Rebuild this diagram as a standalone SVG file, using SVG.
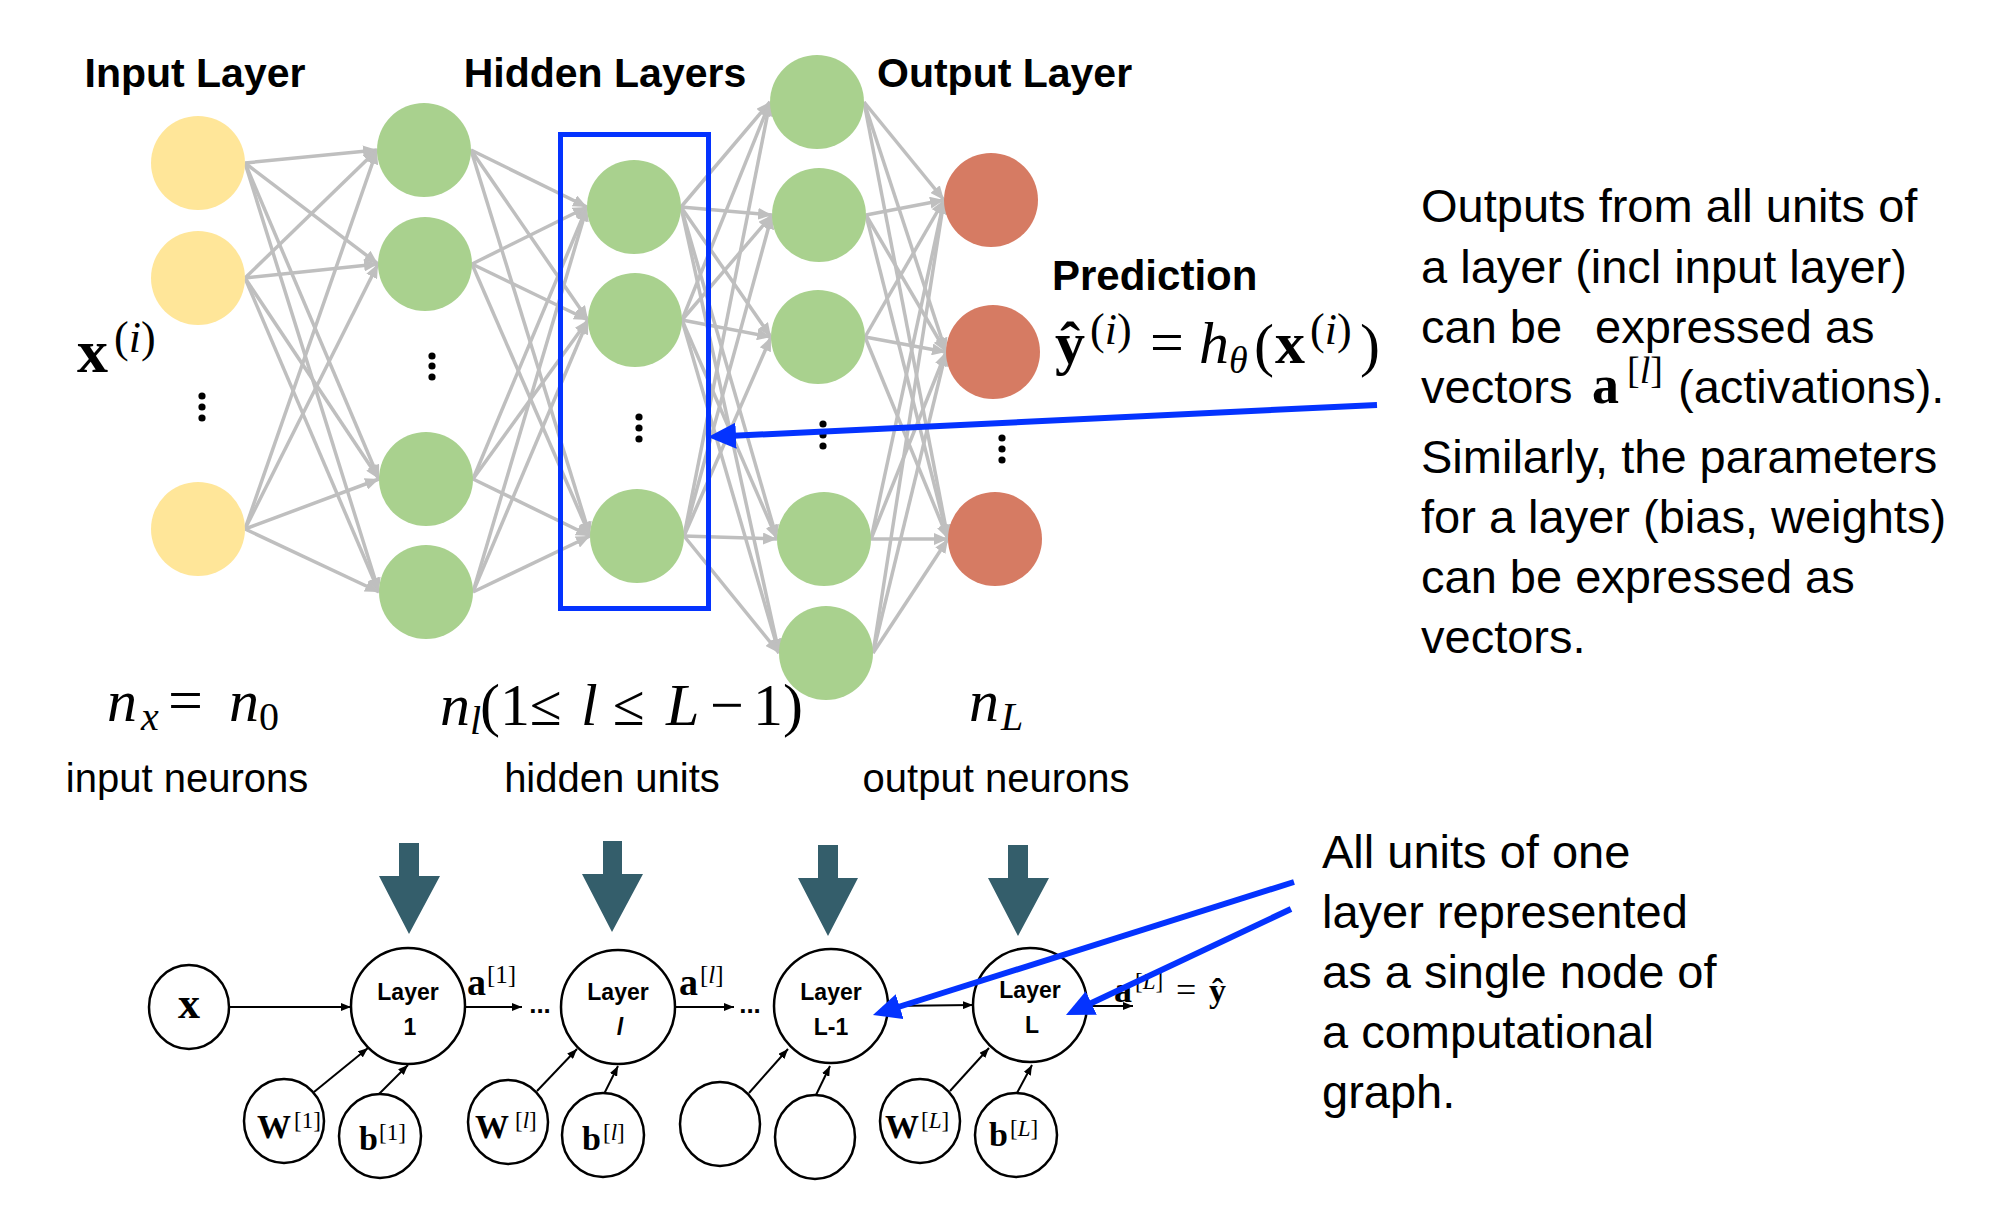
<svg xmlns="http://www.w3.org/2000/svg" width="1999" height="1216" viewBox="0 0 1999 1216">
<style>
.ttl{font-family:"Liberation Sans",Arial,sans-serif;font-weight:bold;font-size:41px;fill:#000}
.lbl{font-family:"Liberation Sans",Arial,sans-serif;font-size:40px;fill:#000;text-anchor:middle}
.body{font-family:"Liberation Sans",Arial,sans-serif;font-size:47px;fill:#000}
.m{font-family:"Liberation Serif","DejaVu Serif",serif;fill:#000}
.i{font-style:italic}
.b{font-weight:bold}
.n{font-weight:normal}
.edge line{stroke:#BFBFBF;stroke-width:3.5;marker-end:url(#ga)}
.yel{fill:#FFE699}.grn{fill:#A9D18E}.red{fill:#D67B63}
.dot{fill:#000}
.cg ellipse{fill:#fff;stroke:#000;stroke-width:2.5}
.lay{font-family:"Liberation Sans",Arial,sans-serif;font-weight:bold;font-size:23px;text-anchor:middle;fill:#000}
.blk line{stroke:#000;stroke-width:2;marker-end:url(#ka)}
.blue line{stroke:#0433FF;stroke-width:6;marker-end:url(#ba)}
.teal{fill:#345E6B}
</style>
<defs>
<marker id="ga" markerUnits="userSpaceOnUse" markerWidth="14" markerHeight="12" refX="14" refY="6" orient="auto"><path d="M0,0 L14,6 L0,12 z" fill="#BFBFBF"/></marker>
<marker id="ka" markerUnits="userSpaceOnUse" markerWidth="10" markerHeight="8" refX="10" refY="4" orient="auto"><path d="M0,0 L10,4 L0,8 z" fill="#000"/></marker>
<marker id="ba" markerUnits="userSpaceOnUse" markerWidth="28" markerHeight="26" refX="18" refY="13" orient="auto"><path d="M0,0 L28,13 L0,26 z" fill="#0433FF"/></marker>
</defs>
<rect width="1999" height="1216" fill="#fff"/>

<!-- titles -->
<text class="ttl" x="195" y="87" text-anchor="middle">Input Layer</text>
<text class="ttl" x="605" y="87" text-anchor="middle">Hidden Layers</text>
<text class="ttl" x="877" y="87">Output Layer</text>
<text class="ttl" x="1052" y="290" style="font-size:42px">Prediction</text>

<!-- connectors of the network -->
<g id="connectors" class="edge">
<line x1="245" y1="163" x2="377" y2="150"/><line x1="245" y1="163" x2="378" y2="264"/><line x1="245" y1="163" x2="379" y2="479"/><line x1="245" y1="163" x2="379" y2="592"/>
<line x1="245" y1="278" x2="377" y2="150"/><line x1="245" y1="278" x2="378" y2="264"/><line x1="245" y1="278" x2="379" y2="479"/><line x1="245" y1="278" x2="379" y2="592"/>
<line x1="245" y1="529" x2="377" y2="150"/><line x1="245" y1="529" x2="378" y2="264"/><line x1="245" y1="529" x2="379" y2="479"/><line x1="245" y1="529" x2="379" y2="592"/>

<line x1="471" y1="150" x2="587" y2="207"/><line x1="471" y1="150" x2="588" y2="320"/><line x1="471" y1="150" x2="590" y2="536"/>
<line x1="472" y1="264" x2="587" y2="207"/><line x1="472" y1="264" x2="588" y2="320"/><line x1="472" y1="264" x2="590" y2="536"/>
<line x1="473" y1="479" x2="587" y2="207"/><line x1="473" y1="479" x2="588" y2="320"/><line x1="473" y1="479" x2="590" y2="536"/>
<line x1="473" y1="592" x2="587" y2="207"/><line x1="473" y1="592" x2="588" y2="320"/><line x1="473" y1="592" x2="590" y2="536"/>

<line x1="681" y1="207" x2="770" y2="102"/><line x1="681" y1="207" x2="772" y2="215"/><line x1="681" y1="207" x2="771" y2="337"/><line x1="681" y1="207" x2="777" y2="539"/><line x1="681" y1="207" x2="779" y2="653"/>
<line x1="682" y1="320" x2="770" y2="102"/><line x1="682" y1="320" x2="772" y2="215"/><line x1="682" y1="320" x2="771" y2="337"/><line x1="682" y1="320" x2="777" y2="539"/><line x1="682" y1="320" x2="779" y2="653"/>
<line x1="684" y1="536" x2="770" y2="102"/><line x1="684" y1="536" x2="772" y2="215"/><line x1="684" y1="536" x2="771" y2="337"/><line x1="684" y1="536" x2="777" y2="539"/><line x1="684" y1="536" x2="779" y2="653"/>

<line x1="864" y1="102" x2="944" y2="200"/><line x1="864" y1="102" x2="946" y2="352"/><line x1="864" y1="102" x2="948" y2="539"/>
<line x1="866" y1="215" x2="944" y2="200"/><line x1="866" y1="215" x2="946" y2="352"/><line x1="866" y1="215" x2="948" y2="539"/>
<line x1="865" y1="337" x2="944" y2="200"/><line x1="865" y1="337" x2="946" y2="352"/><line x1="865" y1="337" x2="948" y2="539"/>
<line x1="871" y1="539" x2="944" y2="200"/><line x1="871" y1="539" x2="946" y2="352"/><line x1="871" y1="539" x2="948" y2="539"/>
<line x1="873" y1="653" x2="944" y2="200"/><line x1="873" y1="653" x2="946" y2="352"/><line x1="873" y1="653" x2="948" y2="539"/>
</g>

<!-- nodes -->
<g id="input-layer">
<circle class="yel" cx="198" cy="163" r="47"/>
<circle class="yel" cx="198" cy="278" r="47"/>
<circle class="yel" cx="198" cy="529" r="47"/>
<circle class="dot" cx="202" cy="396" r="3.6"/><circle class="dot" cx="202" cy="407" r="3.6"/><circle class="dot" cx="202" cy="418" r="3.6"/>
</g>
<g id="hidden-layer-1">
<circle class="grn" cx="424" cy="150" r="47"/>
<circle class="grn" cx="425" cy="264" r="47"/>
<circle class="grn" cx="426" cy="479" r="47"/>
<circle class="grn" cx="426" cy="592" r="47"/>
<circle class="dot" cx="432" cy="356" r="3.6"/><circle class="dot" cx="432" cy="366" r="3.6"/><circle class="dot" cx="432" cy="377" r="3.6"/>
</g>
<g id="hidden-layer-l">
<circle class="grn" cx="634" cy="207" r="47"/>
<circle class="grn" cx="635" cy="320" r="47"/>
<circle class="grn" cx="637" cy="536" r="47"/>
<circle class="dot" cx="639" cy="417" r="3.6"/><circle class="dot" cx="639" cy="428" r="3.6"/><circle class="dot" cx="639" cy="439" r="3.6"/>
</g>
<g id="hidden-layer-last">
<circle class="grn" cx="817" cy="102" r="47"/>
<circle class="grn" cx="819" cy="215" r="47"/>
<circle class="grn" cx="818" cy="337" r="47"/>
<circle class="grn" cx="824" cy="539" r="47"/>
<circle class="grn" cx="826" cy="653" r="47"/>
<circle class="dot" cx="823" cy="424" r="3.6"/><circle class="dot" cx="823" cy="435" r="3.6"/><circle class="dot" cx="823" cy="446" r="3.6"/>
</g>
<g id="output-layer">
<circle class="red" cx="991" cy="200" r="47"/>
<circle class="red" cx="993" cy="352" r="47"/>
<circle class="red" cx="995" cy="539" r="47"/>
<circle class="dot" cx="1002" cy="438" r="3.6"/><circle class="dot" cx="1002" cy="449" r="3.6"/><circle class="dot" cx="1002" cy="460" r="3.6"/>
</g>

<!-- highlight box -->
<rect id="highlight-box" x="560.5" y="134.5" width="148" height="474" fill="none" stroke="#0433FF" stroke-width="5"/>

<!-- math labels -->
<text id="x-i" class="m b" x="77" y="372" font-size="62">x<tspan class="n" x="114" y="352" font-size="44">(<tspan class="i">i</tspan>)</tspan></text>

<text id="prediction-formula" class="m" x="1055" y="363" font-size="60"><tspan class="b">ŷ</tspan><tspan x="1090" y="344" font-size="44">(<tspan class="i">i</tspan>)</tspan><tspan x="1150" y="362">=</tspan><tspan class="i" x="1199" y="363">h</tspan><tspan class="i" x="1229" y="373" font-size="38">θ</tspan><tspan x="1254" y="365">(</tspan><tspan class="b" x="1275" y="363">x</tspan><tspan x="1310" y="344" font-size="44">(<tspan class="i">i</tspan>)</tspan><tspan x="1360" y="365">)</tspan></text>

<text id="count-input" class="m i" x="107" y="721" font-size="60">n<tspan x="141" y="730" font-size="40">x</tspan><tspan class="n" font-style="normal" x="168" y="721" font-size="62">=</tspan><tspan x="229" y="721">n</tspan><tspan font-style="normal" x="259" y="730" font-size="40">0</tspan></text>

<text id="count-hidden" class="m" x="440" y="725" font-size="60"><tspan class="i">n</tspan><tspan class="i" x="470" y="734" font-size="40">l</tspan><tspan x="480" y="725">(1</tspan><tspan x="530" y="725" font-size="58">≤</tspan><tspan class="i" x="581" y="725">l</tspan><tspan x="613" y="725" font-size="58">≤</tspan><tspan class="i" x="666" y="725">L</tspan><tspan x="710" y="725">−</tspan><tspan x="753" y="725">1)</tspan></text>

<text id="count-output" class="m i" x="969" y="721" font-size="60">n<tspan x="1001" y="730" font-size="40">L</tspan></text>

<text class="lbl" x="187" y="792">input neurons</text>
<text class="lbl" x="612" y="792">hidden units</text>
<text class="lbl" x="996" y="792">output neurons</text>

<!-- right explanatory text -->
<g id="note-top">
<text class="body" x="1421" y="222">Outputs from all units of</text>
<text class="body" x="1421" y="283">a layer (incl input layer)</text>
<text class="body" x="1421" y="343">can be<tspan x="1595">expressed as</tspan></text>
<text class="body" x="1421" y="403">vectors <tspan class="m b" x="1592" font-size="54">a</tspan><tspan class="m" x="1627" y="383" font-size="38">[<tspan class="i">l</tspan>]</tspan><tspan x="1678" y="403">(activations).</tspan></text>
<text class="body" x="1421" y="473">Similarly, the parameters</text>
<text class="body" x="1421" y="533">for a layer (bias, weights)</text>
<text class="body" x="1421" y="593">can be expressed as</text>
<text class="body" x="1421" y="653">vectors.</text>
</g>
<g id="note-bottom">
<text class="body" x="1322" y="868">All units of one</text>
<text class="body" x="1322" y="928">layer represented</text>
<text class="body" x="1322" y="988">as a single node of</text>
<text class="body" x="1322" y="1048">a computational</text>
<text class="body" x="1322" y="1108">graph.</text>
</g>

<!-- teal down arrows -->
<g id="down-arrows">
<polygon class="teal" points="399,843 419,843 419,876 440,876 409,934 379,876 399,876"/>
<polygon class="teal" points="603,841 622,841 622,874 643,874 612,932 582,874 603,874"/>
<polygon class="teal" points="818,845 838,845 838,878 858,878 828,936 798,878 818,878"/>
<polygon class="teal" points="1008,845 1028,845 1028,878 1049,878 1018,936 988,878 1008,878"/>
</g>

<!-- computational graph connectors -->
<g id="graph-connectors" class="blk">
<line x1="229" y1="1007" x2="351" y2="1007"/>
<line x1="466" y1="1007" x2="522" y2="1007"/>
<line x1="676" y1="1007" x2="734" y2="1007"/>
<line x1="888" y1="1006" x2="973" y2="1005"/>
<line x1="1087" y1="1006" x2="1133" y2="1006"/>
<line x1="314" y1="1092" x2="368" y2="1048"/>
<line x1="379" y1="1094" x2="408" y2="1065"/>
<line x1="537" y1="1091" x2="577" y2="1049"/>
<line x1="604" y1="1094" x2="618" y2="1066"/>
<line x1="749" y1="1093" x2="788" y2="1049"/>
<line x1="816" y1="1095" x2="830" y2="1066"/>
<line x1="950" y1="1091" x2="989" y2="1048"/>
<line x1="1017" y1="1093" x2="1032" y2="1065"/>
</g>
<text class="lay" x="540" y="1013" style="font-size:26px">...</text>
<text class="lay" x="750" y="1013" style="font-size:26px">...</text>

<!-- computational graph nodes -->
<g id="node-x" class="cg"><ellipse cx="189" cy="1007" rx="40" ry="42"/><text class="m b" x="189" y="1018" font-size="44" text-anchor="middle">x</text></g>
<g id="node-layer1" class="cg"><ellipse cx="408" cy="1006" rx="57" ry="58"/><text class="lay" x="408" y="1000">Layer</text><text class="lay" x="410" y="1035">1</text></g>
<g id="node-layerl" class="cg"><ellipse cx="618" cy="1007" rx="57" ry="57"/><text class="lay" x="618" y="1000">Layer</text><text class="lay" x="620" y="1035" font-style="italic">l</text></g>
<g id="node-layerL-1" class="cg"><ellipse cx="831" cy="1006" rx="57" ry="57"/><text class="lay" x="831" y="1000">Layer</text><text class="lay" x="831" y="1035">L-1</text></g>
<g id="node-layerL" class="cg"><ellipse cx="1030" cy="1005" rx="57" ry="57"/><text class="lay" x="1030" y="998">Layer</text><text class="lay" x="1032" y="1033">L</text></g>
<g id="node-W1" class="cg"><ellipse cx="284" cy="1121" rx="40" ry="42"/><text class="m b" x="257" y="1138" font-size="34">W<tspan class="n" x="294" y="1128" font-size="23">[1]</tspan></text></g>
<g id="node-b1" class="cg"><ellipse cx="380" cy="1136" rx="41" ry="42"/><text class="m b" x="359" y="1150" font-size="34">b<tspan class="n" x="379" y="1140" font-size="23">[1]</tspan></text></g>
<g id="node-Wl" class="cg"><ellipse cx="508" cy="1122" rx="40" ry="42"/><text class="m b" x="475" y="1138" font-size="34">W<tspan class="n" x="515" y="1128" font-size="23">[<tspan class="i">l</tspan>]</tspan></text></g>
<g id="node-bl" class="cg"><ellipse cx="603" cy="1135" rx="41" ry="42"/><text class="m b" x="582" y="1150" font-size="34">b<tspan class="n" x="603" y="1140" font-size="23">[<tspan class="i">l</tspan>]</tspan></text></g>
<g id="node-e1" class="cg"><ellipse cx="720" cy="1124" rx="40" ry="42"/></g>
<g id="node-e2" class="cg"><ellipse cx="815" cy="1137" rx="40" ry="42"/></g>
<g id="node-WL" class="cg"><ellipse cx="920" cy="1121" rx="40" ry="42"/><text class="m b" x="885" y="1138" font-size="34">W<tspan class="n" x="921" y="1128" font-size="23">[<tspan class="i">L</tspan>]</tspan></text></g>
<g id="node-bL" class="cg"><ellipse cx="1016" cy="1135" rx="41" ry="42"/><text class="m b" x="989" y="1146" font-size="34">b<tspan class="n" x="1010" y="1136" font-size="23">[<tspan class="i">L</tspan>]</tspan></text></g>

<!-- edge labels -->
<g id="edge-labels">
<text class="m b" x="467" y="995" font-size="38">a<tspan class="n" x="487" y="983" font-size="25">[1]</tspan></text>
<text class="m b" x="679" y="995" font-size="38">a<tspan class="n" x="700" y="983" font-size="25">[<tspan class="i">l</tspan>]</tspan></text>
<text class="m" x="1114" y="1002" font-size="36" fill="#333"><tspan class="b">a</tspan><tspan x="1135" y="989" font-size="23">[<tspan class="i">L</tspan>]</tspan><tspan x="1176" y="1002">=</tspan><tspan class="b" x="1209" y="1002" font-size="34">ŷ</tspan></text>
</g>

<!-- blue callout arrows -->
<g id="callouts" class="blue">
<line x1="1377" y1="405" x2="718" y2="436.5"/>
<line x1="1294" y1="882" x2="882.5" y2="1012"/>
<line x1="1291" y1="909" x2="1075" y2="1010.7"/>
</g>
</svg>
